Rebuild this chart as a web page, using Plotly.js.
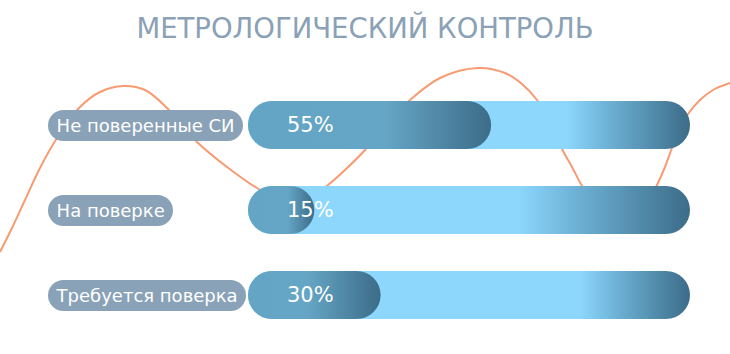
<!DOCTYPE html>
<html>
<head>
<meta charset="utf-8">
<script src="https://cdn.plot.ly/plotly-3.0.1.min.js"></script>
<style>
  html, body { margin: 0; padding: 0; background: #ffffff; }
  #chart { width: 730px; height: 354px; }
</style>
</head>
<body>
<div id="chart"></div>
<script>
// ---- data ----
const titleText = 'МЕТРОЛОГИЧЕСКИЙ КОНТРОЛЬ';
const categories = ['Не поверенные СИ', 'На поверке', 'Требуется поверка'];
const percents = [55, 15, 30];
const trackMax = [100, 100, 100];
// decorative background wave (pixel positions)
const waveX = [0, 12, 25, 40, 57, 80, 100, 123, 145, 167, 197, 227, 257, 280, 298, 314, 328, 345, 365, 388, 410, 440, 478, 505, 522, 537, 550, 562, 572, 582, 598, 617, 635, 647, 657, 665, 672, 680, 688, 700, 713, 730];
const waveY = [252, 228, 200, 168, 138, 107, 92, 86, 90, 108, 142, 167, 188, 199, 201, 195, 185, 170, 150, 122, 100, 78, 68, 73, 84, 100, 122, 149, 167, 186, 212, 224, 218, 203, 185, 167, 148, 128, 114, 100, 90, 83];

const FONT = '"DejaVu Sans", "Noto Sans", sans-serif';
const W = 730, H = 354;
const barStartPx = 248, barEndPx = 690;
const pxPerUnit = (barEndPx - barStartPx) / 100;
const rowTop = 125, rowStep = 85, barPx = 48;

const traces = [
  {
    type: 'scatter', mode: 'lines', x: waveX, y: waveY,
    xaxis: 'x', yaxis: 'y',
    line: { color: '#f89a72', width: 2, shape: 'spline', smoothing: 1 },
    hoverinfo: 'skip', showlegend: false
  },
  {
    type: 'bar', orientation: 'h', x: trackMax, y: categories,
    xaxis: 'x2', yaxis: 'y2', width: barPx / rowStep,
    marker: { color: '#8dd7fd', line: { width: 0 } },
    hoverinfo: 'skip', showlegend: false
  },
  {
    type: 'bar', orientation: 'h', x: percents, y: categories,
    xaxis: 'x2', yaxis: 'y2', width: barPx / rowStep,
    marker: { color: '#64a4c4', line: { width: 0 } },
    hoverinfo: 'skip', showlegend: false
  }
];

const annotations = [];
categories.forEach((c, i) => {
  annotations.push({
    xref: 'paper', x: 48 / W, xanchor: 'left',
    yref: 'y2', y: i, yanchor: 'middle',
    text: '\u2009' + c + '\u2009', showarrow: false,
    font: { family: FONT, size: 18, color: '#ffffff' },
    bgcolor: '#8aa2b7', borderpad: 5, borderwidth: 0
  });
});
percents.forEach((v, i) => {
  annotations.push({
    xref: 'x2', x: 0, xanchor: 'left', xshift: 37,
    yref: 'y2', y: i, yanchor: 'middle',
    text: v + '%', showarrow: false,
    font: { family: FONT, size: 21, color: '#ffffff' }
  });
});

const layout = {
  width: W, height: H,
  margin: { l: 0, r: 0, t: 0, b: 0, pad: 0 },
  paper_bgcolor: '#ffffff', plot_bgcolor: 'rgba(0,0,0,0)',
  showlegend: false,
  barmode: 'overlay',
  title: {
    text: titleText, x: 0.5, xanchor: 'center', xref: 'paper',
    y: 1 - 28 / H, yanchor: 'middle', yref: 'container',
    font: { family: FONT, size: 27.5, color: '#8aa1b6' }
  },
  xaxis: { domain: [0, 1], range: [0, W], visible: false, fixedrange: true },
  yaxis: { domain: [0, 1], range: [H, 0], visible: false, fixedrange: true },
  xaxis2: {
    overlaying: 'x', range: [-barStartPx / pxPerUnit, (W - barStartPx) / pxPerUnit],
    visible: false, fixedrange: true
  },
  yaxis2: {
    overlaying: 'y', type: 'category', categoryarray: categories, categoryorder: 'array',
    range: [(H - rowTop) / rowStep, -rowTop / rowStep],
    visible: false, fixedrange: true
  },
  annotations: annotations
};

const trackStops = [0.72, 0.61, 0.75];
const fgStops = [0.57, 0.6, 0.45];

function addGrad(defs, id, stops) {
  const ns = 'http://www.w3.org/2000/svg';
  let g = defs.querySelector('#' + id);
  if (g) g.remove();
  g = document.createElementNS(ns, 'linearGradient');
  g.setAttribute('id', id);
  g.setAttribute('x1', '0'); g.setAttribute('y1', '0');
  g.setAttribute('x2', '1'); g.setAttribute('y2', '0');
  stops.forEach(s => {
    const st = document.createElementNS(ns, 'stop');
    st.setAttribute('offset', s[0]);
    st.setAttribute('stop-color', s[1]);
    g.appendChild(st);
  });
  defs.appendChild(g);
}

function pillPath(x, y, w, h) {
  const r = Math.min(h / 2, w / 2);
  return 'M' + (x + r) + ',' + y + 'H' + (x + w - r) +
    'A' + r + ',' + r + ' 0 0 1 ' + (x + w - r) + ',' + (y + h) +
    'H' + (x + r) + 'A' + r + ',' + r + ' 0 0 1 ' + (x + r) + ',' + y + 'Z';
}

function decorate(gd) {
  const svg = gd.querySelector('.main-svg');
  let defs = svg.querySelector('defs');
  if (!defs) { defs = document.createElementNS('http://www.w3.org/2000/svg', 'defs'); svg.insertBefore(defs, svg.firstChild); }
  categories.forEach((c, i) => {
    const t = trackStops[i];
    addGrad(defs, 'trk' + i, [[0, '#8dd7fd'], [t, '#8dd7fd'], [t + (1 - t) * 0.35, '#6cb0d4'], [1, '#3c6c88']]);
    const f = fgStops[i];
    addGrad(defs, 'fg' + i, [[0, '#64a4c4'], [f, '#65a5c5'], [1, '#3c6c88']]);
  });
  const barTraces = gd.querySelectorAll('.barlayer .trace.bars');
  barTraces.forEach((tr, ti) => {
    tr.querySelectorAll('.point path').forEach((p, pi) => {
      const bb = p.getBBox();
      p.setAttribute('d', pillPath(bb.x, bb.y, bb.width, bb.height));
      p.style.fill = 'url(#' + (ti === 0 ? 'trk' : 'fg') + pi + ')';
    });
  });
  categories.forEach((c, i) => {
    const r = gd.querySelector('.annotation[data-index="' + i + '"] rect.bg');
    if (r) {
      const h = parseFloat(r.getAttribute('height'));
      r.setAttribute('rx', h / 2); r.setAttribute('ry', h / 2);
    }
  });
}

const gd = document.getElementById('chart');
Plotly.newPlot(gd, traces, layout, { staticPlot: true, displayModeBar: false }).then(() => {
  decorate(gd);
  gd.on && gd.on('plotly_afterplot', () => decorate(gd));
});
</script>
</body>
</html>
